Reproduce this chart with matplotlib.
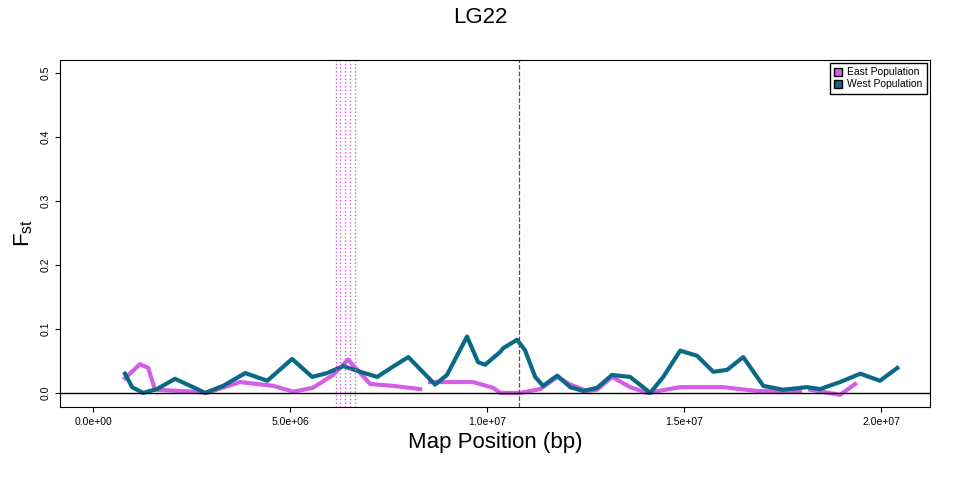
import numpy as np
import matplotlib.pyplot as plt
from matplotlib.patches import Patch

plt.rcParams['font.family'] = ['Liberation Sans', 'DejaVu Sans']

# West population Fst (position in Mb)
west_x = [0.81, 0.99, 1.27, 1.62, 2.08, 2.54, 2.84, 3.30, 3.86, 4.42, 5.05, 5.56, 5.94, 6.35,
          6.78, 7.21, 7.61, 8.0, 8.68, 8.98, 9.49, 9.77, 9.95, 10.33, 10.41, 10.76, 10.96,
          11.22, 11.42, 11.78, 12.11, 12.44, 12.79, 13.17, 13.63, 14.14, 14.47, 14.90, 15.33,
          15.74, 16.09, 16.50, 17.01, 17.51, 18.12, 18.45, 18.96, 19.47, 19.97, 20.41]
west_y = [0.030, 0.009, 0.000, 0.006, 0.022, 0.009, 0.000, 0.011, 0.031, 0.019, 0.053, 0.025,
          0.031, 0.042, 0.033, 0.025, 0.041, 0.056, 0.013, 0.028, 0.088, 0.048, 0.044, 0.064,
          0.070, 0.083, 0.067, 0.025, 0.011, 0.027, 0.009, 0.003, 0.008, 0.028, 0.025, 0.000,
          0.025, 0.066, 0.058, 0.033, 0.036, 0.056, 0.011, 0.005, 0.009, 0.006, 0.017, 0.030,
          0.019, 0.039]

# East population Fst (NaN = gap)
east_x = [0.81, 1.19, 1.40, 1.57, 2.54, 2.89, 3.73, 4.57, 5.08, 5.58, 6.09, 6.47, 6.78, 7.03,
          7.61, 8.30, np.nan, 8.55, 9.64, 10.15, 10.33, 10.84, 11.35, 11.78, 12.11, 12.54,
          12.79, 13.17, 13.63, 14.06, 14.90, 15.99, 16.85, 17.94, np.nan, 18.20, 18.96, 19.34]
east_y = [0.023, 0.045, 0.039, 0.005, 0.002, 0.000, 0.017, 0.011, 0.002, 0.008, 0.028, 0.052,
          0.031, 0.014, 0.011, 0.006, np.nan, 0.017, 0.017, 0.008, 0.000, 0.000, 0.006, 0.025,
          0.013, 0.003, 0.005, 0.025, 0.009, 0.000, 0.009, 0.009, 0.003, 0.003, np.nan, 0.005,
          -0.003, 0.014]

east_lines = [6.17, 6.27, 6.40, 6.52, 6.65]   # Mb
west_line = 10.8

east_col = '#d35fe6'
west_col = '#0a6a86'

fig = plt.figure(figsize=(9.6, 4.8), dpi=100)
ax = fig.add_axes([60/960, 73/480, 870/960, 347/480])

ax.plot(np.array(east_x) * 1e6, east_y, color=east_col, lw=3)
ax.plot(np.array(west_x) * 1e6, west_y, color=west_col, lw=3)
for v in east_lines:
    ax.axvline(v * 1e6, color=east_col, ls=':', lw=1)
ax.axvline(west_line * 1e6, color='#555555', ls='--', lw=0.9)
ax.axhline(0, color='black', lw=1)

ax.set_xlim(-0.84e6, 21.24e6)
ax.set_ylim(-0.022, 0.52)
xt = [0, 5e6, 1e7, 1.5e7, 2e7]
ax.set_xticks(xt)
ax.set_xticklabels(['0.0e+00', '5.0e+06', '1.0e+07', '1.5e+07', '2.0e+07'], fontsize=7.5)
ax.set_yticks([0, 0.1, 0.2, 0.3, 0.4, 0.5])
ax.set_yticklabels(['0.0', '0.1', '0.2', '0.3', '0.4', '0.5'], fontsize=7.5, rotation=90, va='center')
ax.set_xlabel('Map Position (bp)', fontsize=16)
ax.set_ylabel(r'$\mathregular{F_{st}}$', fontsize=16)
fig.suptitle('LG22', fontsize=16, y=0.985)

handles = [Patch(facecolor=east_col, edgecolor='black', label='East Population'),
           Patch(facecolor=west_col, edgecolor='black', label='West Population')]
ax.legend(handles=handles, loc='upper right', fontsize=7.5, fancybox=False, edgecolor='black',
          handlelength=0.8, handleheight=0.8, borderaxespad=0.3, labelspacing=0.2,
          handletextpad=0.5, framealpha=1)

fig.savefig('out.png', dpi=100)
